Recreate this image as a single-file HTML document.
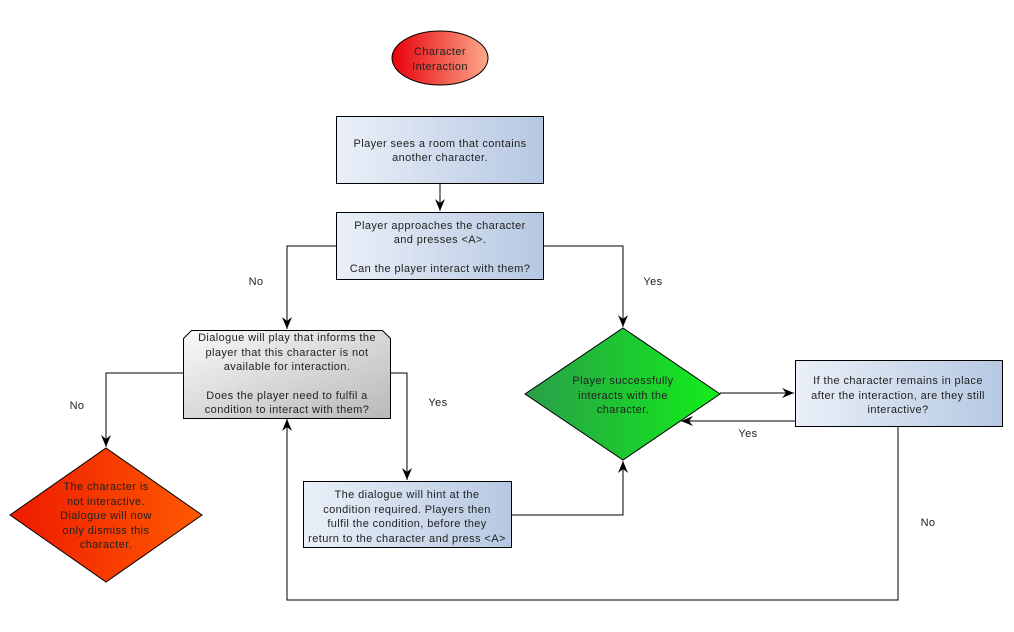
<!DOCTYPE html>
<html><head><meta charset="utf-8"><style>body{margin:0;background:#fff}svg{display:block}text{font-family:"Liberation Sans",sans-serif;font-size:11px;letter-spacing:0.4px;fill:#222;text-anchor:middle}</style></head><body>
<svg width="1014" height="632" viewBox="0 0 1014 632">
<defs>
<linearGradient id="r" x1="0" y1="0" x2="1" y2="0"><stop offset="0" stop-color="#e8000a"/><stop offset="1" stop-color="#fca88a"/></linearGradient>
<linearGradient id="b" x1="0" y1="0" x2="1" y2="0"><stop offset="0" stop-color="#eaf0f8"/><stop offset="1" stop-color="#b6c8e2"/></linearGradient>
<linearGradient id="g" x1="0" y1="0" x2="1" y2="1"><stop offset="0" stop-color="#fafafa"/><stop offset="1" stop-color="#b8b8b8"/></linearGradient>
<linearGradient id="gr" x1="0" y1="0" x2="1" y2="0"><stop offset="0" stop-color="#2a9e4a"/><stop offset="1" stop-color="#12ee1a"/></linearGradient>
<linearGradient id="rd" x1="0" y1="0" x2="1" y2="0"><stop offset="0" stop-color="#ee1a00"/><stop offset="1" stop-color="#ff5a00"/></linearGradient>
<marker id="a" markerWidth="12" markerHeight="10" refX="12" refY="5" orient="auto" markerUnits="userSpaceOnUse"><path d="M0,0 L12,5 L0,10 L4,5 Z" fill="#000"/></marker>
</defs>
<g stroke="#000" stroke-width="1" fill="none">
<line x1="440" y1="183" x2="440" y2="211" marker-end="url(#a)"/>
<polyline points="336,246 287,246 287,329" marker-end="url(#a)"/>
<polyline points="543,246 623,246 623,327" marker-end="url(#a)"/>
<polyline points="183,373 106,373 106,447" marker-end="url(#a)"/>
<polyline points="390,373 407,373 407,480" marker-end="url(#a)"/>
<polyline points="512,515 623,515 623,461" marker-end="url(#a)"/>
<line x1="720" y1="393" x2="794" y2="393" marker-end="url(#a)"/>
<line x1="795" y1="421" x2="681" y2="421" marker-end="url(#a)"/>
<polyline points="898,427 898,600 287,600 287,419" marker-end="url(#a)"/>
</g>
<ellipse cx="440" cy="58" rx="48" ry="27" fill="url(#r)" stroke="#000"/>
<text x="440" y="55">Character</text><text x="440" y="70">Interaction</text>
<rect x="336.5" y="116.5" width="207" height="67" fill="url(#b)" stroke="#000"/>
<text x="440" y="147">Player sees a room that contains</text><text x="440" y="161">another character.</text>
<rect x="336.5" y="212.5" width="207" height="67" fill="url(#b)" stroke="#000"/>
<text x="440" y="229">Player approaches the character</text><text x="440" y="243">and presses &lt;A&gt;.</text><text x="440" y="272">Can the player interact with them?</text>
<path d="M191.5,330.5 L382.5,330.5 L390.5,338.5 L390.5,418.5 L183.5,418.5 L183.5,338.5 Z" fill="url(#g)" stroke="#000"/>
<text x="287" y="341">Dialogue will play that informs the</text><text x="287" y="356">player that this character is not</text><text x="287" y="370">available for interaction.</text><text x="287" y="399">Does the player need to fulfil a</text><text x="287" y="413">condition to interact with them?</text>
<rect x="303.5" y="481.5" width="208" height="66" fill="url(#b)" stroke="#000"/>
<text x="407" y="498">The dialogue will hint at the</text><text x="407" y="513">condition required. Players  then</text><text x="407" y="527">fulfil the condition, before they</text><text x="407" y="542">return to the character and press &lt;A&gt;</text>
<polygon points="623,328 720,394 623,460 525,394" fill="url(#gr)" stroke="#000"/>
<text x="623" y="384">Player successfully</text><text x="623" y="399">interacts with the</text><text x="623" y="413">character.</text>
<rect x="795.5" y="360.5" width="207" height="66" fill="url(#b)" stroke="#000"/>
<text x="898" y="384">If the character remains in place</text><text x="898" y="399">after the interaction, are they still</text><text x="898" y="413">interactive?</text>
<polygon points="106,448 202,515 106,582 10,515" fill="url(#rd)" stroke="#000"/>
<text x="106" y="490">The character is</text><text x="106" y="505">not interactive.</text><text x="106" y="519">Dialogue will now</text><text x="106" y="534">only dismiss this</text><text x="106" y="548">character.</text>
<text x="256" y="285">No</text><text x="653" y="285">Yes</text><text x="77" y="409">No</text><text x="438" y="406">Yes</text><text x="748" y="437">Yes</text><text x="928" y="526">No</text>
</svg>
</body></html>
